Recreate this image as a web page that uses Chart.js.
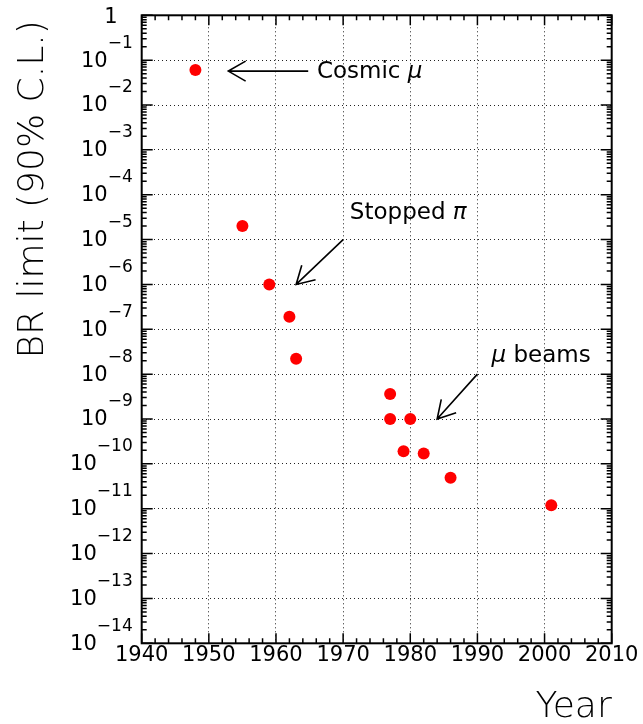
<!DOCTYPE html>
<html>
<head>
<meta charset="utf-8">
<script src="https://cdn.jsdelivr.net/npm/chart.js@4"></script>
<style>
  html, body { margin: 0; padding: 0; background: #fff; }
  #wrap { width: 643px; height: 724px; }
</style>
</head>
<body>
<div id="wrap"><canvas id="brChart" width="643" height="724"></canvas></div>
<script>
// datos
const years = [1948, 1955, 1959, 1962, 1963, 1977, 1977, 1980, 1979, 1982, 1986, 2001];
const brLimits = [6e-2, 2e-5, 1e-6, 1.9e-7, 2.2e-8, 3.6e-9, 1.0e-9, 1.0e-9, 1.9e-10, 1.7e-10, 4.9e-11, 1.2e-11];
const xTicks = [1940, 1950, 1960, 1970, 1980, 1990, 2000, 2010];
const yTickExps = [0, -1, -2, -3, -4, -5, -6, -7, -8, -9, -10, -11, -12, -13, -14];

// anotaciones (flecha desde -> hasta, texto) en coordenadas de datos
const notas = [
    { text: 'Cosmic ', greek: 'μ', greekFirst: false, tx: 1966.1, ty: 5.3e-2, from: [1964.8, 5.7e-2], to: [1952.9, 5.7e-2] },
    { text: 'Stopped ', greek: 'π', greekFirst: false, tx: 1971.0, ty: 4.0e-5, from: [1970, 1e-5], to: [1963, 1e-6] },
    { text: ' beams', greek: 'μ', greekFirst: true, tx: 1992.1, ty: 2.6e-8, from: [1990, 1e-8], to: [1984, 1e-9] }
];

const FONT = '"DejaVu Sans", sans-serif';

const marcoPlugin = {
    id: 'marco',
    afterDatasetsDraw(chart) {
        const ctx = chart.ctx;
        const xs = chart.scales.x;
        const ys = chart.scales.y;
        const a = chart.chartArea;

        ctx.save();
        ctx.strokeStyle = '#000';
        ctx.lineWidth = 1.5;

        // ticks del eje X (abajo y arriba)
        for (let yr = 1940; yr <= 2010; yr += 2) {
            const px = xs.getPixelForValue(yr);
            const len = (yr % 10 === 0) ? 10 : 5;
            ctx.beginPath();
            ctx.moveTo(px, a.bottom); ctx.lineTo(px, a.bottom - len);
            ctx.moveTo(px, a.top); ctx.lineTo(px, a.top + len);
            ctx.stroke();
        }

        // ticks del eje Y (izquierda y derecha)
        yTickExps.forEach(e => {
            for (let m = 1; m <= 9; m++) {
                if (e === 0 && m > 1) break;
                const v = m * Math.pow(10, e);
                const py = ys.getPixelForValue(v);
                const len = (m === 1) ? 11 : 5;
                ctx.beginPath();
                ctx.moveTo(a.left, py); ctx.lineTo(a.left + len, py);
                ctx.moveTo(a.right, py); ctx.lineTo(a.right - len, py);
                ctx.stroke();
            }
        });

        // marco
        ctx.lineWidth = 2;
        ctx.strokeRect(a.left, a.top, a.right - a.left, a.bottom - a.top);

        // etiquetas X
        ctx.fillStyle = '#000';
        ctx.font = '21px ' + FONT;
        ctx.textAlign = 'center';
        ctx.textBaseline = 'middle';
        xTicks.forEach(v => {
            ctx.fillText(String(v), xs.getPixelForValue(v), a.bottom + 12);
        });

        // etiquetas Y con exponente
        const derecha = a.left - 9;
        yTickExps.forEach(e => {
            const py = ys.getPixelForValue(Math.pow(10, e));
            if (e === 0) {
                ctx.font = '21px ' + FONT;
                ctx.textAlign = 'right';
                ctx.fillText('1', derecha - 15, py + 2);
                return;
            }
            const sup = '\u2212' + Math.abs(e);
            ctx.font = '17px ' + FONT;
            ctx.textAlign = 'right';
            const supW = ctx.measureText(sup).width;
            ctx.fillText(sup, derecha, py - 17);
            ctx.font = '21px ' + FONT;
            ctx.fillText('10', derecha - supW, py + 1);
        });

        // titulos de ejes (trazo fino)
        ctx.font = '200 36px ' + FONT;
        ctx.textAlign = 'right';
        ctx.textBaseline = 'alphabetic';
        ctx.fillText('Year', a.right, 717);

        ctx.save();
        ctx.translate(43, a.top + 5);
        ctx.rotate(-Math.PI / 2);
        ctx.textAlign = 'right';
        ctx.fillText('BR limit (90% C.L.)', 0, 0);
        ctx.restore();

        // anotaciones con flechas
        notas.forEach(n => {
            const x1 = xs.getPixelForValue(n.from[0]), y1 = ys.getPixelForValue(n.from[1]);
            const x2 = xs.getPixelForValue(n.to[0]), y2 = ys.getPixelForValue(n.to[1]);
            const ang = Math.atan2(y2 - y1, x2 - x1);
            const L = 20, abre = Math.PI / 6;
            ctx.lineWidth = 1.6;
            ctx.beginPath();
            ctx.moveTo(x1, y1); ctx.lineTo(x2, y2);
            ctx.moveTo(x2 - L * Math.cos(ang - abre), y2 - L * Math.sin(ang - abre));
            ctx.lineTo(x2, y2);
            ctx.lineTo(x2 - L * Math.cos(ang + abre), y2 - L * Math.sin(ang + abre));
            ctx.stroke();

            let tx = xs.getPixelForValue(n.tx);
            const ty = ys.getPixelForValue(n.ty);
            ctx.textAlign = 'left';
            ctx.textBaseline = 'middle';
            const normal = '23px ' + FONT;
            const italica = 'italic 23px ' + FONT;
            if (n.greekFirst) {
                ctx.font = italica; ctx.fillText(n.greek, tx, ty);
                tx += ctx.measureText(n.greek).width;
                ctx.font = normal; ctx.fillText(n.text, tx, ty);
            } else {
                ctx.font = normal; ctx.fillText(n.text, tx, ty);
                tx += ctx.measureText(n.text).width;
                ctx.font = italica; ctx.fillText(n.greek, tx, ty);
            }
        });

        ctx.restore();
    }
};

const ctx = document.getElementById('brChart').getContext('2d');

new Chart(ctx, {
    type: 'scatter',
    data: {
        datasets: [{
            label: 'BR limit',
            data: years.map((y, i) => ({ x: y, y: brLimits[i] })),
            backgroundColor: '#ff0000',
            borderWidth: 0,
            pointRadius: 6,
            pointHoverRadius: 6
        }]
    },
    options: {
        responsive: false,
        animation: false,
        events: [],
        layout: { padding: { top: 15.3, right: 31.3, left: 0, bottom: 0 } },
        scales: {
            x: {
                type: 'linear',
                min: 1940,
                max: 2010,
                afterBuildTicks: s => { s.ticks = xTicks.map(v => ({ value: v })); },
                afterFit: s => { s.height = 80.7; },
                ticks: { display: false },
                grid: { color: '#222', lineWidth: 1, drawTicks: false },
                border: { display: false, dash: [1, 3] }
            },
            y: {
                type: 'logarithmic',
                min: 1e-14,
                max: 1,
                afterBuildTicks: s => { s.ticks = yTickExps.map(e => ({ value: Math.pow(10, e) })); },
                afterFit: s => { s.width = 141.7; },
                ticks: { display: false },
                grid: { color: '#222', lineWidth: 1, drawTicks: false },
                border: { display: false, dash: [1, 3] }
            }
        },
        plugins: {
            legend: { display: false },
            tooltip: { enabled: false }
        }
    },
    plugins: [marcoPlugin]
});
</script>
</body>
</html>
